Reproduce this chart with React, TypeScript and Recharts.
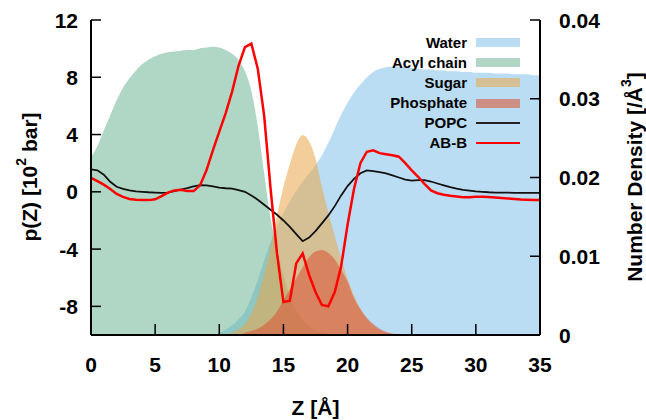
import React from 'react';
import { ComposedChart, Area, Line, XAxis, YAxis } from 'recharts';

// Z positions [Å]
const Z = [0,0.5,1,1.5,2,2.5,3,3.5,4,4.5,5,5.5,6,6.5,7,7.5,8,8.5,9,9.5,10,10.5,11,11.5,12,12.5,13,13.5,14,14.5,15,15.5,16,16.5,17,17.5,18,18.5,19,19.5,20,20.5,21,21.5,22,22.5,23,23.5,24,24.5,25,25.5,26,26.5,27,27.5,28,28.5,29,29.5,30,30.5,31,31.5,32,32.5,33,33.5,34,34.5,35];

// Number densities [/Å^3]
const WATER = [0,0,0,0,0,0,0,0,0,0,0,0,0,0,0,0,0,0,0,0,
  0.0003,0.0007,0.0012,0.002,0.003,0.0048,0.007,0.0095,0.0118,0.0138,0.0155,0.017,0.0183,0.0195,0.0205,0.0216,0.0228,0.0244,0.0262,0.028,0.0295,0.0308,0.0318,0.0327,0.0334,0.0338,0.034,0.0341,0.0341,0.034,0.0339,0.0338,0.0337,0.0337,0.0336,0.0336,0.0335,0.0335,0.0334,0.0334,0.0333,0.0333,0.0333,0.0332,0.0332,0.0332,0.0331,0.0331,0.0331,0.033,0.033];
const ACYL = [0.0226,0.024,0.026,0.0279,0.0298,0.0314,0.0326,0.0336,0.0344,0.035,0.0354,0.0357,0.0359,0.036,0.0361,0.0362,0.0362,0.0364,0.0365,0.0366,0.0365,0.0362,0.0357,0.0349,0.0335,0.031,0.0265,0.0205,0.0148,0.011,0.0076,0.005,0.0031,0.0019,0.0011,0.0006,0.0003,0.0001,
  0,0,0,0,0,0,0,0,0,0,0,0,0,0,0,0,0,0,0,0,0,0,0,0,0,0,0,0,0,0,0,0,0];
const SUGAR = [0,0,0,0,0,0,0,0,0,0,0,0,0,0,0,0,0,0,0,0,0,0,
  0.0003,0.0007,0.0014,0.0027,0.0048,0.0077,0.0112,0.0152,0.0188,0.0217,0.0242,0.0254,0.0246,0.0224,0.0188,0.0156,0.0126,0.0097,0.0071,0.005,0.0033,0.002,0.0011,0.0006,0.0003,0.0001,
  0,0,0,0,0,0,0,0,0,0,0,0,0,0,0,0,0,0,0,0,0,0,0];
const PHOSPHATE = [0,0,0,0,0,0,0,0,0,0,0,0,0,0,0,0,0,0,0,0,0,0,0,0,
  0.0003,0.0005,0.0008,0.0013,0.002,0.003,0.0044,0.0058,0.0072,0.0086,0.0099,0.0106,0.0108,0.0104,0.0096,0.0083,0.0068,0.0047,0.0033,0.0022,0.0014,0.0008,0.0004,0.0002,0.0001,
  0,0,0,0,0,0,0,0,0,0,0,0,0,0,0,0,0,0,0,0,0,0];

// Lateral pressure p(Z) [10^2 bar]
const POPC = [1.57,1.5,1.2,0.7,0.35,0.2,0.1,0.03,0.0,-0.03,-0.05,-0.07,-0.05,0.05,0.15,0.25,0.38,0.47,0.45,0.38,0.3,0.25,0.22,0.12,0.0,-0.25,-0.55,-0.9,-1.25,-1.6,-2.0,-2.45,-2.95,-3.45,-3.2,-2.75,-2.2,-1.65,-1.0,-0.25,0.4,0.9,1.3,1.5,1.45,1.38,1.28,1.15,1.0,0.85,0.78,0.82,0.82,0.72,0.58,0.45,0.32,0.22,0.14,0.08,0.03,0.0,-0.03,-0.05,-0.05,-0.06,-0.07,-0.07,-0.07,-0.07,-0.07];
const ABB = [0.98,0.75,0.5,0.2,-0.15,-0.35,-0.5,-0.55,-0.57,-0.58,
  -0.52,-0.3,-0.05,0.1,0.15,0.05,0.05,0.45,1.5,2.9,
  4.2,5.5,7.0,8.8,10.1,10.35,8.6,5.3,0.2,-4.3,
  -7.7,-7.6,-5.0,-4.3,-5.8,-7.0,-7.9,-8.0,-7.0,-5.2,
  -2.3,0.2,2.0,2.8,2.9,2.7,2.62,2.55,2.45,2.0,
  1.5,1.05,0.55,0.1,-0.1,-0.2,-0.28,-0.33,-0.38,-0.38,
  -0.35,-0.35,-0.37,-0.4,-0.43,-0.46,-0.5,-0.53,-0.55,-0.57,-0.58];

const X_TICKS = [0, 5, 10, 15, 20, 25, 30, 35];
const X_TOP_TICKS = [5, 10, 15, 20, 25, 30];
const P_TICKS = [-8, -4, 0, 4, 8, 12];
const D_TICKS = [0, 0.01, 0.02, 0.03, 0.04];

const LEGEND_NAMES = ['Water', 'Acyl chain', 'Sugar', 'Phosphate', 'POPC', 'AB-B'];

const C_WATER = '#8cc6ec';
const C_ACYL = '#62b08e';
const C_SUGAR = '#eba647';
const C_PHOS = '#db5a3c';
const O_WATER = 0.6;
const O_ACYL = 0.5;
const O_SUGAR = 0.55;
const O_PHOS = 0.6;

const rows = Z.map((z, i) => ({
  z,
  water: WATER[i],
  acyl: ACYL[i],
  sugar: SUGAR[i],
  phosphate: PHOSPHATE[i],
  popc: POPC[i],
  abb: ABB[i],
}));

// layout
const W = 646;
const H = 420;
const M_TOP = 20;
const X_AXIS_H = 85;
const Y_LEFT_W = 91;
const Y_RIGHT_W = 106;
const PLOT_TOP = M_TOP;
const PLOT_BOTTOM = H - X_AXIS_H;
const PLOT_LEFT = Y_LEFT_W;
const PLOT_RIGHT = W - Y_RIGHT_W;
const TICK_LEN = 10;

const FONT = "'Liberation Sans', Arial, Helvetica, sans-serif";
const axisLineStyle = { stroke: '#000', strokeWidth: 2 };
const labelProps = { fill: '#000', fontSize: 21, fontWeight: 700, fontFamily: FONT };

const BottomTick = (props: any) => {
  const { x, payload } = props;
  return (
    <g>
      <line x1={x} x2={x} y1={PLOT_BOTTOM} y2={PLOT_BOTTOM - TICK_LEN - 1} stroke="#000" strokeWidth={1.5} />
      <text x={x} y={PLOT_BOTTOM + 37} textAnchor="middle" {...labelProps}>{payload.value}</text>
    </g>
  );
};
const TopTick = (props: any) => {
  const { x } = props;
  return <line x1={x} x2={x} y1={PLOT_TOP} y2={PLOT_TOP + TICK_LEN + 1} stroke="#000" strokeWidth={1.5} />;
};
const LeftTick = (props: any) => {
  const { y, payload } = props;
  return (
    <g>
      <line x1={PLOT_LEFT} x2={PLOT_LEFT + TICK_LEN} y1={y} y2={y} stroke="#000" strokeWidth={1.5} />
      <text x={PLOT_LEFT - 13} y={y + 7.5} textAnchor="end" {...labelProps}>{payload.value}</text>
    </g>
  );
};
const RightTick = (props: any) => {
  const { y, payload } = props;
  const v = payload.value as number;
  return (
    <g>
      <line x1={PLOT_RIGHT} x2={PLOT_RIGHT - TICK_LEN} y1={y} y2={y} stroke="#000" strokeWidth={1.5} />
      <text x={PLOT_RIGHT + 19} y={y + 7.5} textAnchor="start" {...labelProps}>{v === 0 ? '0' : v.toFixed(2)}</text>
    </g>
  );
};

const legendSwatches = [
  { kind: 'area', color: C_WATER, opacity: O_WATER, width: 9 },
  { kind: 'area', color: C_ACYL, opacity: O_ACYL, width: 9 },
  { kind: 'area', color: C_SUGAR, opacity: O_SUGAR, width: 9 },
  { kind: 'area', color: C_PHOS, opacity: O_PHOS, width: 9 },
  { kind: 'line', color: '#222', opacity: 1, width: 2 },
  { kind: 'line', color: '#ff0000', opacity: 1, width: 2.5 },
];

export default function App() {
  return (
    <div style={{ position: 'absolute', left: 0, top: 0, width: W, height: H, background: '#fff', fontFamily: FONT }}>
      <ComposedChart width={W} height={H} data={rows} margin={{ top: M_TOP, right: 0, bottom: 0, left: 0 }}>
        <XAxis xAxisId="b" dataKey="z" type="number" domain={[0, 35]} ticks={X_TICKS} height={X_AXIS_H}
          axisLine={axisLineStyle} tickLine={false} tick={<BottomTick />} allowDataOverflow interval={0} />
        <XAxis xAxisId="t" orientation="top" dataKey="z" type="number" domain={[0, 35]} ticks={X_TOP_TICKS} height={0}
          axisLine={axisLineStyle} tickLine={false} tick={<TopTick />} allowDataOverflow interval={0} />
        <YAxis yAxisId="p" orientation="left" domain={[-10, 12]} ticks={P_TICKS} width={Y_LEFT_W}
          axisLine={axisLineStyle} tickLine={false} tick={<LeftTick />} allowDataOverflow interval={0} />
        <YAxis yAxisId="d" orientation="right" domain={[0, 0.04]} ticks={D_TICKS} width={Y_RIGHT_W}
          axisLine={axisLineStyle} tickLine={false} tick={<RightTick />} allowDataOverflow interval={0} />
        <Area xAxisId="b" yAxisId="d" type="monotone" dataKey="water" stroke="none" fill={C_WATER} fillOpacity={O_WATER} isAnimationActive={false} />
        <Area xAxisId="b" yAxisId="d" type="monotone" dataKey="acyl" stroke="none" fill={C_ACYL} fillOpacity={O_ACYL} isAnimationActive={false} />
        <Area xAxisId="b" yAxisId="d" type="monotone" dataKey="sugar" stroke="none" fill={C_SUGAR} fillOpacity={O_SUGAR} isAnimationActive={false} />
        <Area xAxisId="b" yAxisId="d" type="monotone" dataKey="phosphate" stroke="none" fill={C_PHOS} fillOpacity={O_PHOS} isAnimationActive={false} />
        <Line xAxisId="b" yAxisId="p" type="linear" dataKey="popc" stroke="#111" strokeWidth={1.8} dot={false} isAnimationActive={false} />
        <Line xAxisId="b" yAxisId="p" type="linear" dataKey="abb" stroke="#ff0000" strokeWidth={2.5} dot={false} isAnimationActive={false} />
      </ComposedChart>

      {/* legend */}
      {LEGEND_NAMES.map((name, i) => {
        const cy = 42.7 + i * 20.1;
        const sw = legendSwatches[i];
        return (
          <React.Fragment key={name}>
            <div style={{ position: 'absolute', right: W - 467, top: cy - 9, height: 18, lineHeight: '18px', fontSize: 15, fontWeight: 700, color: '#000', whiteSpace: 'nowrap', textAlign: 'right' }}>{name}</div>
            <div style={{ position: 'absolute', left: 476, top: cy - sw.width / 2, width: 44, height: sw.width, background: sw.color, opacity: sw.opacity }} />
          </React.Fragment>
        );
      })}

      {/* axis titles */}
      <svg width={W} height={H} style={{ position: 'absolute', left: 0, top: 0, pointerEvents: 'none' }}>
        <text x={0} y={0} transform="translate(29,177) rotate(-90)" textAnchor="middle" dominantBaseline="central"
          fontFamily={FONT} fontWeight={700} fontSize={21} fill="#000">
          p(Z) [10<tspan dy={-8} fontSize={14}>2</tspan><tspan dy={8}> bar]</tspan>
        </text>
        <text x={0} y={0} transform="translate(634,177) rotate(-90)" textAnchor="middle" dominantBaseline="central"
          fontFamily={FONT} fontWeight={700} fontSize={21} fill="#000">
          Number Density [/Å<tspan dy={-8} fontSize={14}>3</tspan><tspan dy={8}>]</tspan>
        </text>
        <text x={315.5} y={415} textAnchor="middle" fontFamily={FONT} fontWeight={700} fontSize={21} fill="#000">Z [Å]</text>
      </svg>
    </div>
  );
}
